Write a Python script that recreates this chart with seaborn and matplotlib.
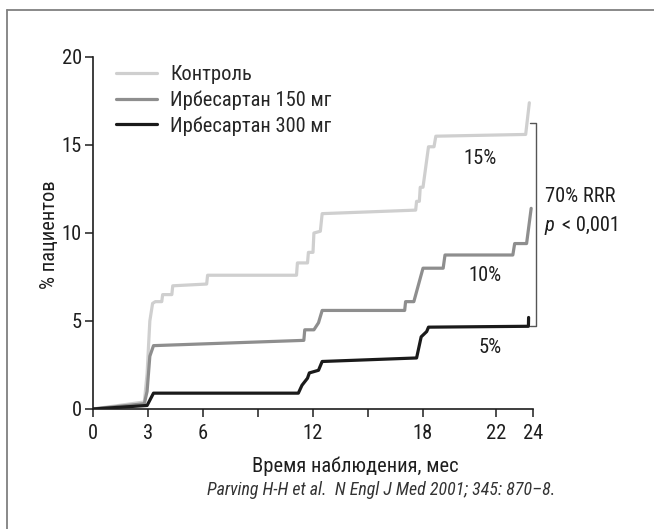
import matplotlib
matplotlib.use("Agg")
import matplotlib.pyplot as plt
from matplotlib.lines import Line2D
import numpy as np
import pandas as pd
import seaborn as sns

# Cumulative incidence (% of patients) by follow-up month
control_t = [0, 2.8, 2.95, 3.1, 3.25, 3.4, 3.75, 3.8, 4.3, 4.35, 6.2, 6.25,
             11.1, 11.15, 11.7, 11.75, 12.0, 12.05, 12.4, 12.5, 17.6, 17.65,
             17.8, 17.85, 18.0, 18.3, 18.6, 18.7, 23.6, 23.8]
control_v = [0, 0.4, 2.0, 5.0, 6.0, 6.1, 6.1, 6.5, 6.5, 7.0, 7.1, 7.6,
             7.6, 8.3, 8.3, 8.9, 8.9, 10.0, 10.1, 11.1, 11.3, 11.8,
             11.8, 12.6, 12.6, 14.9, 14.9, 15.5, 15.6, 17.4]

irb150_t = [0, 2.8, 2.95, 3.1, 3.3, 11.5, 11.55, 12.05, 12.3, 12.5, 17.0,
            17.05, 17.5, 18.0, 19.1, 19.2, 22.9, 23.0, 23.65, 23.9]
irb150_v = [0, 0.3, 1.0, 3.0, 3.6, 3.9, 4.5, 4.5, 4.9, 5.6, 5.6,
            6.1, 6.1, 8.0, 8.0, 8.75, 8.75, 9.4, 9.4, 11.4]

irb300_t = [0, 2.95, 3.3, 11.2, 11.4, 11.7, 11.8, 12.3, 12.5, 17.65, 17.9,
            18.2, 18.3, 23.75, 23.76]
irb300_v = [0, 0.2, 0.9, 0.9, 1.35, 1.75, 2.05, 2.2, 2.7, 2.9, 4.1,
            4.4, 4.65, 4.7, 5.2]

groups = ["Контроль", "Ирбесартан 150 мг", "Ирбесартан 300 мг"]
colors = ["#cfcfcf", "#8e8e8e", "#1a1a1a"]

x_ticks = [0, 3, 6, 9, 12, 15, 18, 22, 24]
x_labels = ["0", "3", "6", "", "12", "", "18", "22", "24"]
y_ticks = [0, 5, 10, 15, 20]

rate_labels = ["15%", "10%", "5%"]
rate_pos = [(21.1, 14.26), (21.4, 7.6), (21.65, 3.47)]

df = pd.concat([
    pd.DataFrame({"month": t, "pct": v, "group": g})
    for t, v, g in zip([control_t, irb150_t, irb300_t],
                       [control_v, irb150_v, irb300_v], groups)
], ignore_index=True)

sns.set_style("ticks")
plt.rcParams["font.family"] = ["Roboto Condensed", "Liberation Sans"]
FS = 14.8
INK = "#1e1e1e"

fig = plt.figure(figsize=(6.54, 5.29), dpi=100)
ax = fig.add_axes([93 / 654, 1 - 409 / 529, 440 / 654, 352 / 529])

sns.lineplot(data=df, x="month", y="pct", hue="group", hue_order=groups,
             palette=colors, sort=False, estimator=None, linewidth=2.3,
             ax=ax)

ax.set_xlim(0, 24)
ax.set_ylim(0, 20)
ax.set_xticks(x_ticks)
ax.set_xticklabels(x_labels)
ax.set_yticks(y_ticks)
ax.tick_params(axis="both", direction="out", length=6, width=1.1,
               labelsize=FS, color=INK, labelcolor=INK, pad=2)
ax.tick_params(axis="x", pad=4.5)
for s in ["left", "bottom"]:
    ax.spines[s].set_linewidth(1.2)
    ax.spines[s].set_color(INK)
sns.despine(ax=ax)

ax.set_xlabel("Время наблюдения, мес", fontsize=FS, color=INK)
ax.xaxis.set_label_coords((355 - 93) / 440, -(466 - 409) / 352)
ax.xaxis.label.set_va("center")
ax.set_ylabel("% пациентов", fontsize=FS, color=INK)
ax.yaxis.set_label_coords(-(93 - 50) / 440, (409 - 235) / 352)
ax.yaxis.label.set_va("center")

leg = ax.legend(loc="upper left", bbox_to_anchor=(0.033, 1.0), frameon=False,
                fontsize=FS, handlelength=2.0, handletextpad=0.65,
                labelspacing=0.3, borderaxespad=0.0)
for line in leg.get_lines():
    line.set_linewidth(2.3)

for txt, (x, y) in zip(rate_labels, rate_pos):
    ax.text(x, y, txt, fontsize=FS, ha="center", va="center", color=INK)

# bracket spanning the two outer curves at 24 months
ax.plot([23.85, 24.15, 24.15, 23.85], [16.25, 16.25, 4.7, 4.7],
        color="#555555", linewidth=1.0, clip_on=False)
ax.text(24.65, 12.1, "70% RRR", fontsize=FS, ha="left", va="center",
        color=INK)
ax.text(24.65, 10.45, "p", fontsize=FS, ha="left", va="center",
        style="italic", color=INK)
ax.annotate("< 0,001", xy=(24.65, 10.45), xytext=(12.5, 0),
            textcoords="offset points", fontsize=FS, ha="left", va="center",
            color=INK, annotation_clip=False)

fig.text(207 / 654, 1 - 490 / 529,
         "Parving H-H et al.  N Engl J Med 2001; 345: 870–8.",
         fontsize=12.9, style="italic", ha="left", va="center",
         color="#333333")

# panel frame: top and left edges
fig.add_artist(Line2D([7 / 654, 1.0], [1 - 10 / 529, 1 - 10 / 529],
                      color="#808080", linewidth=1.3))
fig.add_artist(Line2D([7 / 654, 7 / 654], [0, 1 - 10 / 529],
                      color="#808080", linewidth=1.3))

fig.savefig("out.png", dpi=100, facecolor="white")
